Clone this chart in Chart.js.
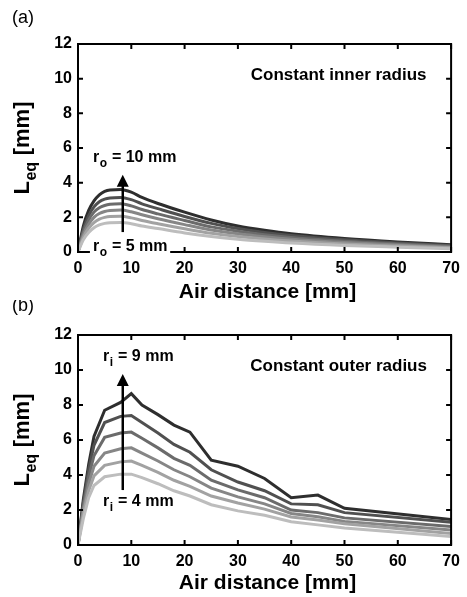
<!DOCTYPE html>
<html>
<head>
<meta charset="utf-8">
<script src="https://cdn.jsdelivr.net/npm/chart.js@4.4.0/dist/chart.umd.min.js"></script>
<style>
  body { margin: 0; background: #fff; }
  #wrap { position: relative; width: 467px; height: 597px; overflow: hidden; }
  .panel { position: absolute; left: 0; width: 467px; }
</style>
</head>
<body>
<div id="wrap">
  <div class="panel" style="top:0;height:310px"><canvas id="chartA"></canvas></div>
  <div class="panel" style="top:300px;height:297px"><canvas id="chartB"></canvas></div>
</div>
<script>
// (a) constant inner radius, outer radius r_o = 5 ... 10 mm
const distA = [0, 1, 2, 3, 4, 5, 6, 8, 10, 12, 15, 20, 25, 30, 35, 40, 50, 60, 70];
const ro5  = [0, 0.70, 1.12, 1.40, 1.56, 1.65, 1.69, 1.70, 1.63, 1.50, 1.35, 1.10, 0.90, 0.74, 0.62, 0.52, 0.38, 0.28, 0.19];
const ro6  = [0, 0.85, 1.37, 1.70, 1.90, 2.00, 2.05, 2.06, 1.97, 1.82, 1.63, 1.34, 1.08, 0.90, 0.75, 0.63, 0.46, 0.34, 0.24];
const ro7  = [0, 1.00, 1.60, 2.00, 2.22, 2.34, 2.40, 2.42, 2.32, 2.15, 1.92, 1.58, 1.27, 1.05, 0.88, 0.74, 0.55, 0.40, 0.28];
const ro8  = [0, 1.15, 1.85, 2.30, 2.55, 2.68, 2.75, 2.78, 2.66, 2.45, 2.20, 1.82, 1.45, 1.20, 1.00, 0.84, 0.62, 0.46, 0.33];
const ro9  = [0, 1.30, 2.10, 2.60, 2.90, 3.05, 3.12, 3.15, 3.02, 2.78, 2.50, 2.05, 1.65, 1.35, 1.12, 0.95, 0.70, 0.52, 0.37];
const ro10 = [0, 1.50, 2.40, 2.95, 3.30, 3.50, 3.58, 3.60, 3.45, 3.15, 2.80, 2.30, 1.85, 1.50, 1.25, 1.05, 0.78, 0.58, 0.42];

// (b) constant outer radius, inner radius r_i = 4 ... 9 mm
const distB = [0, 1, 2, 3, 5, 8, 10, 12, 15, 18, 21, 25, 30, 35, 40, 45, 50, 70];
const ri4 = [0, 1.5, 2.7, 3.4, 3.90, 4.05, 4.05, 3.85, 3.50, 3.10, 2.80, 2.30, 1.95, 1.70, 1.33, 1.15, 0.97, 0.48];
const ri5 = [0, 1.8, 3.1, 3.95, 4.55, 4.75, 4.80, 4.55, 4.15, 3.70, 3.35, 2.80, 2.40, 2.05, 1.60, 1.43, 1.22, 0.65];
const ri6 = [0, 2.0, 3.5, 4.5, 5.25, 5.50, 5.55, 5.25, 4.80, 4.30, 3.90, 3.25, 2.75, 2.35, 1.80, 1.62, 1.35, 0.85];
const ri7 = [0, 2.2, 3.9, 5.1, 6.15, 6.40, 6.45, 6.10, 5.55, 4.95, 4.55, 3.70, 3.15, 2.70, 2.00, 1.85, 1.55, 1.05];
const ri8 = [0, 2.4, 4.3, 5.7, 7.00, 7.35, 7.40, 7.00, 6.40, 5.75, 5.30, 4.30, 3.60, 3.10, 2.35, 2.30, 1.85, 1.30];
const ri9 = [0, 2.6, 4.6, 6.2, 7.70, 8.15, 8.65, 8.00, 7.45, 6.85, 6.45, 4.85, 4.50, 3.80, 2.70, 2.85, 2.10, 1.45];

const xTicks = [0, 10, 20, 30, 40, 50, 60, 70];
const yTicks = [0, 2, 4, 6, 8, 10, 12];

const grays = ['#bdbdbd', '#a2a2a2', '#868686', '#6b6b6b', '#505050', '#2e2e2e'];
const FONT = '"Liberation Sans", Arial, sans-serif';

function toPoints(xs, ys) {
  return xs.map((x, i) => ({ x: x, y: ys[i] }));
}

// text with a subscript after the first part
function drawSub(ctx, x, y, base, sub, rest, size, align) {
  const big = 'bold ' + size + 'px ' + FONT;
  const small = 'bold ' + Math.round(size * 0.72) + 'px ' + FONT;
  ctx.font = big;
  const w1 = ctx.measureText(base).width;
  const w3 = ctx.measureText(rest).width;
  ctx.font = small;
  const w2 = ctx.measureText(sub).width + 1;
  const total = w1 + w2 + w3;
  let sx = align === 'center' ? x - total / 2 : x;
  ctx.textAlign = 'left';
  ctx.textBaseline = 'middle';
  ctx.font = big;
  ctx.fillText(base, sx, y);
  ctx.font = small;
  ctx.fillText(sub, sx + w1 + 0.5, y + size * 0.38);
  ctx.font = big;
  ctx.fillText(rest, sx + w1 + w2, y);
  return total;
}

const framePlugin = {
  id: 'frame',
  afterDatasetsDraw(chart) {
    const { ctx, chartArea: a, scales: { x, y } } = chart;
    ctx.save();
    ctx.strokeStyle = '#000';
    ctx.lineWidth = 2;
    ctx.strokeRect(a.left, a.top, a.right - a.left, a.bottom - a.top);
    ctx.beginPath();
    xTicks.forEach(v => {
      const px = x.getPixelForValue(v);
      ctx.moveTo(px, a.bottom); ctx.lineTo(px, a.bottom - 5);
      ctx.moveTo(px, a.top); ctx.lineTo(px, a.top + 5);
    });
    yTicks.forEach(v => {
      const py = y.getPixelForValue(v);
      ctx.moveTo(a.left, py); ctx.lineTo(a.left + 5, py);
      ctx.moveTo(a.right, py); ctx.lineTo(a.right - 5, py);
    });
    ctx.stroke();
    ctx.restore();
  },
  afterDraw(chart, args, o) {
    const { ctx, chartArea: a, scales: { x, y } } = chart;
    ctx.save();
    ctx.fillStyle = '#000';

    // panel letter
    ctx.font = '18px ' + FONT;
    ctx.textAlign = 'left';
    ctx.textBaseline = 'middle';
    ctx.fillText(o.panel, 12, o.panelY);

    // axis titles
    ctx.font = 'bold 21px ' + FONT;
    ctx.textAlign = 'center';
    ctx.fillText('Air distance [mm]', (a.left + a.right) / 2 + 3, o.xTitleY);
    ctx.save();
    ctx.translate(23, (a.top + a.bottom) / 2);
    ctx.rotate(-Math.PI / 2);
    drawSub(ctx, 0, 0, 'L', 'eq', ' [mm]', 22, 'center');
    ctx.restore();

    // note
    ctx.font = 'bold 17px ' + FONT;
    ctx.textAlign = 'center';
    ctx.fillText(o.note, x.getPixelForValue(o.noteAt[0]), y.getPixelForValue(o.noteAt[1]));

    // arrow
    const ax = x.getPixelForValue(o.arrow[0]);
    const y0 = y.getPixelForValue(o.arrow[1]);
    const y1 = y.getPixelForValue(o.arrow[2]);
    ctx.strokeStyle = '#000';
    ctx.lineWidth = 2.5;
    ctx.beginPath();
    ctx.moveTo(ax, y0);
    ctx.lineTo(ax, y1 + 8);
    ctx.stroke();
    ctx.beginPath();
    ctx.moveTo(ax, y1);
    ctx.lineTo(ax - 6, y1 + 12);
    ctx.lineTo(ax + 6, y1 + 12);
    ctx.closePath();
    ctx.fill();

    // radius labels
    const hi = o.hiLabel, lo = o.loLabel;
    const hx = x.getPixelForValue(hi.at[0]), hy = y.getPixelForValue(hi.at[1]);
    drawSub(ctx, hx, hy, 'r', hi.sub, hi.text, 16, 'left');
    const lx = x.getPixelForValue(lo.at[0]), ly = y.getPixelForValue(lo.at[1]);
    if (lo.box) {
      ctx.font = 'bold 16px ' + FONT;
      const w = ctx.measureText('r' + lo.text).width + 14;
      ctx.fillStyle = '#fff';
      ctx.fillRect(lx - 3, ly - 9, w, 20);
      ctx.fillStyle = '#000';
    }
    drawSub(ctx, lx, ly, 'r', lo.sub, lo.text, 16, 'left');
    ctx.restore();
  }
};

function makeChart(id, xs, series, tension, heightX, padTop, opts) {
  const datasets = series.map((s, i) => ({
    data: toPoints(xs, s),
    borderColor: grays[i],
    borderWidth: 3,
    pointRadius: 0,
    fill: false,
    tension: tension,
    cubicInterpolationMode: tension ? 'monotone' : 'default'
  }));
  const tickFont = { family: FONT, size: 16, weight: 'bold' };
  return new Chart(document.getElementById(id), {
    type: 'line',
    data: { datasets: datasets },
    options: {
      responsive: true,
      maintainAspectRatio: false,
      animation: false,
      layout: { padding: { top: padTop, right: 15, left: 0, bottom: 0 } },
      plugins: { legend: { display: false }, tooltip: { enabled: false }, frame: opts },
      scales: {
        x: {
          type: 'linear', min: 0, max: 70,
          afterBuildTicks: s => { s.ticks = xTicks.map(v => ({ value: v })); },
          afterFit: s => { s.height = heightX; },
          ticks: { font: tickFont, color: '#000', padding: 7, maxRotation: 0 },
          grid: { display: false, drawTicks: false },
          border: { display: false }
        },
        y: {
          min: 0, max: 12,
          afterBuildTicks: s => { s.ticks = yTicks.map(v => ({ value: v })); },
          afterFit: s => { s.width = 78; },
          ticks: { font: tickFont, color: '#000', padding: 6 },
          grid: { display: false, drawTicks: false },
          border: { display: false }
        }
      }
    },
    plugins: [framePlugin]
  });
}

makeChart('chartA', distA, [ro5, ro6, ro7, ro8, ro9, ro10], 0.4, 58, 44, {
  panel: '(a)', panelY: 18, xTitleY: 292,
  note: 'Constant inner radius', noteAt: [48.9, 10.2],
  arrow: [8.4, 1.15, 4.45],
  hiLabel: { sub: 'o', text: ' = 10 mm', at: [2.8, 5.42] },
  loLabel: { sub: 'o', text: ' = 5 mm', at: [2.8, 0.29], box: true }
});

makeChart('chartB', distB, [ri4, ri5, ri6, ri7, ri8, ri9], 0, 52, 35, {
  panel: '(b)', panelY: 6, xTitleY: 283,
  note: 'Constant outer radius', noteAt: [48.9, 10.23],
  arrow: [8.4, 3.14, 9.77],
  hiLabel: { sub: 'i', text: ' = 9 mm', at: [4.7, 10.74] },
  loLabel: { sub: 'i', text: ' = 4 mm', at: [4.7, 2.46], box: false }
});
</script>
</body>
</html>
